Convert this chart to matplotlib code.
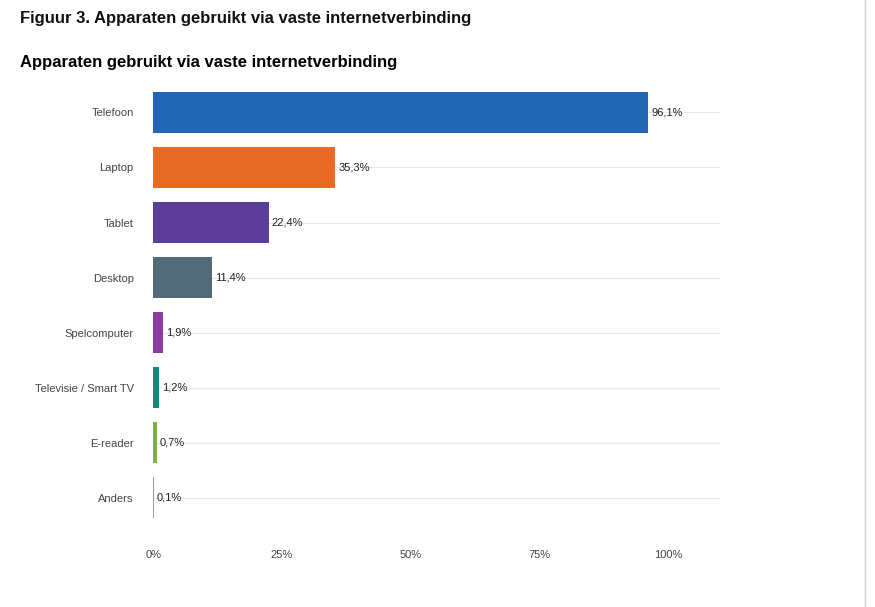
import matplotlib.pyplot as plt
import matplotlib.lines as mlines

categories = ['Telefoon', 'Laptop', 'Tablet', 'Desktop', 'Spelcomputer',
              'Televisie / Smart TV', 'E-reader', 'Anders']
values = [96.1, 35.3, 22.4, 11.4, 1.9, 1.2, 0.7, 0.1]
labels = ['96,1%', '35,3%', '22,4%', '11,4%', '1,9%', '1,2%', '0,7%', '0,1%']
colors = ['#2166b3', '#e66a23', '#5b3e9a', '#536b78', '#8a3aa0',
          '#17877c', '#7ab43e', '#9a9a9a']
xticks = [0, 25, 50, 75, 100]
xticklabels = ['0%', '25%', '50%', '75%', '100%']

plt.rcParams['font.family'] = ['Liberation Sans', 'DejaVu Sans']
fig = plt.figure(figsize=(8.75, 6.07), dpi=100)
ax = fig.add_axes([0.175, 0.135, 0.648, 0.725])

ypos = list(range(len(categories)))
for y in ypos:
    ax.axhline(y, color='#e6e6e6', lw=0.8, zorder=0)
ax.barh(ypos, values, height=0.76, color=colors, zorder=2)
for y, v, lab in zip(ypos, values, labels):
    ax.text(v + 0.6, y, lab, va='center', ha='left', fontsize=8, color='#222222')

ax.set_xlim(0, 110)
ax.set_ylim(len(categories) - 0.5, -0.5)
ax.set_yticks(ypos)
ax.set_yticklabels(categories, fontsize=8, color='#444444')
ax.set_xticks(xticks)
ax.set_xticklabels(xticklabels, fontsize=8, color='#444444')
ax.tick_params(length=0, pad=14)
ax.tick_params(axis='x', pad=18)
for s in ax.spines.values():
    s.set_visible(False)

fig.text(20 / 875, 1 - 18 / 607, 'Figuur 3. Apparaten gebruikt via vaste internetverbinding',
         fontsize=12, fontweight='bold', va='center', ha='left', color='#111111')
fig.text(20 / 875, 1 - 63 / 607, 'Apparaten gebruikt via vaste internetverbinding',
         fontsize=12, fontweight='bold', va='center', ha='left', color='#000000')
fig.add_artist(mlines.Line2D([865 / 875, 865 / 875], [0, 1], color='#d0d0d0', lw=1))

fig.savefig('out.png', dpi=100)
